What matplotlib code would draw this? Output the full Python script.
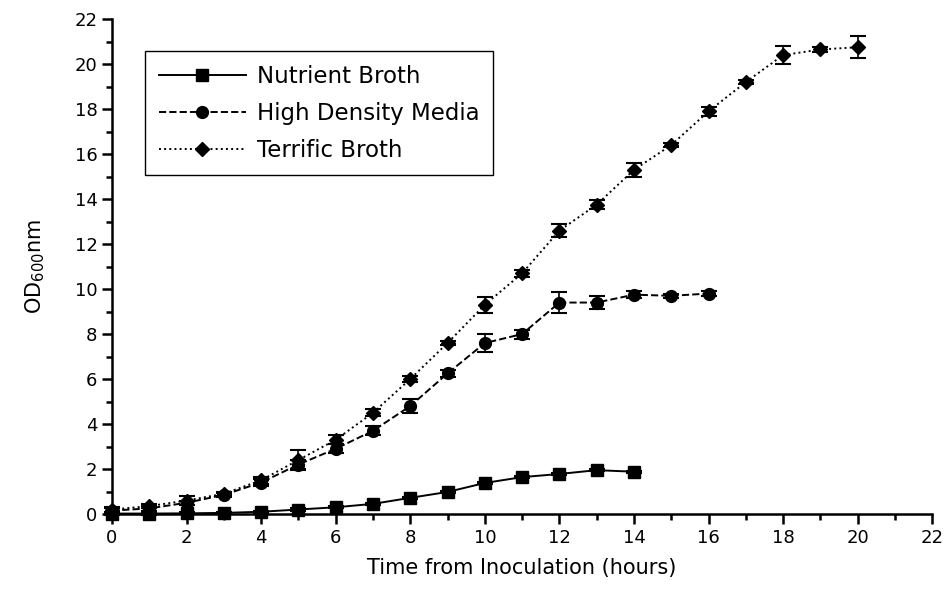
import matplotlib.pyplot as plt
from matplotlib.lines import Line2D
import numpy as np

# growth curves
hours_nb = np.arange(0, 15)
od_nb = [0.02, 0.02, 0.03, 0.05, 0.1, 0.2, 0.3, 0.45, 0.72, 0.98, 1.38, 1.64, 1.78, 1.95, 1.88]
err_nb = [0.05] * 15

hours_hd = np.arange(0, 17)
od_hd = [0.15, 0.25, 0.5, 0.85, 1.4, 2.2, 2.9, 3.7, 4.8, 6.25, 7.6, 8.0, 9.4, 9.4, 9.75, 9.7, 9.8]
err_hd = [0.1, 0.1, 0.1, 0.1, 0.15, 0.2, 0.2, 0.2, 0.3, 0.15, 0.4, 0.2, 0.45, 0.3, 0.15, 0.1, 0.1]

hours_tb = np.arange(0, 21)
od_tb = [0.2, 0.35, 0.6, 0.9, 1.5, 2.4, 3.3, 4.5, 6.0, 7.6, 9.3, 10.7, 12.6, 13.75, 15.3,
         16.4, 17.9, 19.2, 20.4, 20.65, 20.75]
err_tb = [0.1, 0.1, 0.2, 0.1, 0.15, 0.45, 0.2, 0.15, 0.15, 0.1, 0.35, 0.15, 0.3, 0.2, 0.3,
          0.1, 0.2, 0.1, 0.4, 0.1, 0.5]

fig = plt.figure(figsize=(9.45, 5.97), dpi=100)
ax = fig.add_axes([0.1185, 0.139, 0.868, 0.829])

kw = dict(color='black', ecolor='black', capsize=6, elinewidth=1.2, capthick=1.5,
          linewidth=1.4, clip_on=False)
series = [
    (hours_nb, od_nb, err_nb, '-', 's', 8.5, 'Nutrient Broth'),
    (hours_hd, od_hd, err_hd, '--', 'o', 8.5, 'High Density Media'),
    (hours_tb, od_tb, err_tb, ':', 'D', 7.5, 'Terrific Broth'),
]
handles = []
for x, y, e, ls, mk, ms, name in series:
    cont = ax.errorbar(x, y, yerr=e, linestyle=ls, marker=mk, markersize=ms, **kw)
    for art in cont.get_children():
        art.set_clip_on(False)
    handles.append(Line2D([], [], color='black', linestyle=ls, marker=mk,
                          markersize=ms, linewidth=1.4))

ax.set_xlim(0, 22)
ax.set_ylim(0, 22)
ax.set_xticks(np.arange(0, 23, 2))
ax.set_yticks(np.arange(0, 23, 2))
ax.set_xticks(np.arange(1, 23, 2), minor=True)
ax.set_yticks(np.arange(1, 23, 2), minor=True)
ax.spines['top'].set_visible(False)
ax.spines['right'].set_visible(False)
ax.spines['left'].set_linewidth(1.8)
ax.spines['bottom'].set_linewidth(1.8)
ax.tick_params(which='major', length=7, width=1.8, labelsize=13)
ax.tick_params(which='minor', length=4, width=1.8)

ax.set_xlabel('Time from Inoculation (hours)', fontsize=15, labelpad=8)
ax.set_ylabel(r'OD$_{600}$nm', fontsize=15, labelpad=20)

ax.legend(handles, [s[-1] for s in series], loc='upper left',
          bbox_to_anchor=(0.04, 0.935), fontsize=16.5, frameon=True,
          fancybox=False, edgecolor='black', framealpha=1, handlelength=3.8,
          borderpad=0.6, labelspacing=0.6, handletextpad=0.5, borderaxespad=0)

plt.savefig('out.png', dpi=100)
